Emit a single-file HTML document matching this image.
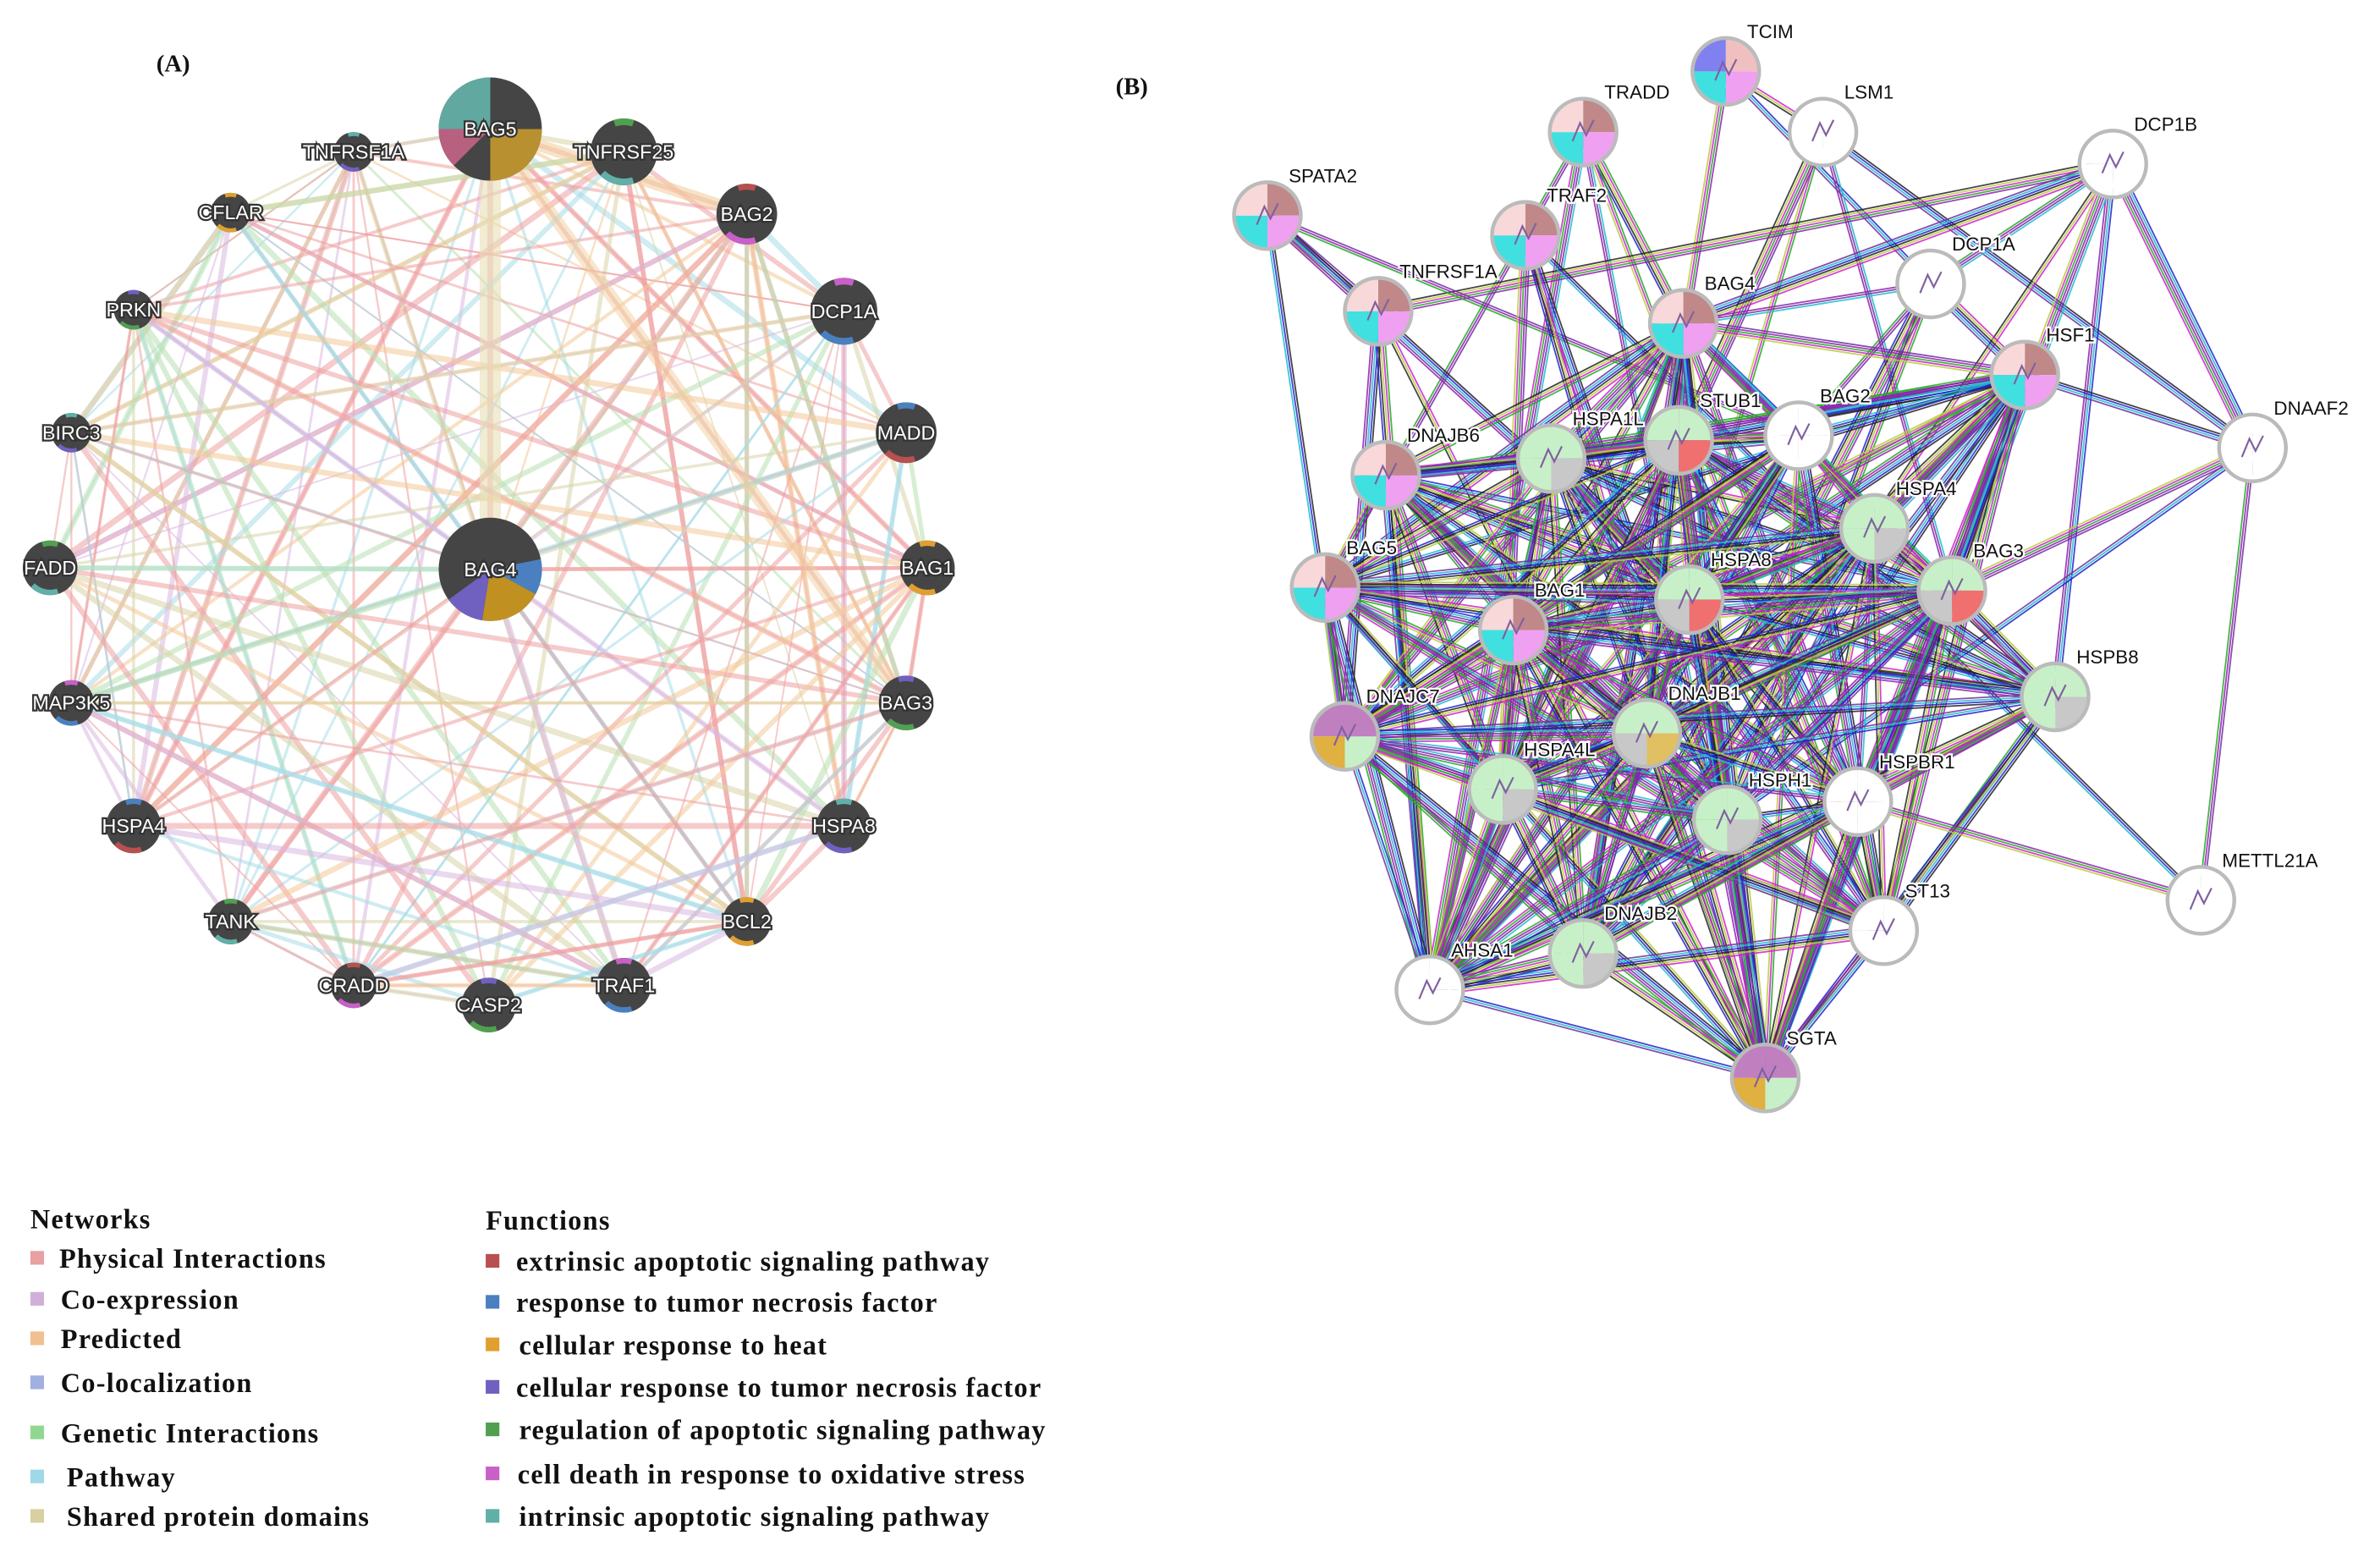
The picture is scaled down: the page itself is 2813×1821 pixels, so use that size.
<!DOCTYPE html>
<html><head><meta charset="utf-8"><style>
html,body{margin:0;padding:0;background:#fff;}
svg{display:block}
.la{font-family:"Liberation Sans",sans-serif;font-size:13px;fill:#fff;stroke:#333;stroke-width:2.5px;paint-order:stroke;text-anchor:middle;dominant-baseline:central}
.lb{font-family:"Liberation Sans",sans-serif;font-size:12.5px;fill:#111;stroke:#fff;stroke-width:2.5px;paint-order:stroke}
.lg{font-family:"Liberation Serif",serif;font-weight:bold;font-size:18px;letter-spacing:0.7px;fill:#111}
.tt{font-family:"Liberation Serif",serif;font-weight:bold;font-size:16px;fill:#111}
</style></head><body>
<svg id="s" width="2813" height="1821" viewBox="0 0 1568 1015" xmlns="http://www.w3.org/2000/svg">
<rect width="1568" height="1015" fill="#fff"/>
<g id="ea"></g><g id="na"></g>
<g id="eb"></g><g id="nb"></g>
<text class="tt" x="103" y="47">(A)</text>
<text class="tt" x="735" y="62">(B)</text>
<text class="lg" x="20" y="809">Networks</text>
<rect x="20" y="824" width="9" height="9" fill="#e8a0a0"/><text class="lg" x="39" y="835">Physical Interactions</text>
<rect x="20" y="851" width="9" height="9" fill="#d0b0d8"/><text class="lg" x="40" y="862">Co-expression</text>
<rect x="20" y="877" width="9" height="9" fill="#f0c090"/><text class="lg" x="40" y="888">Predicted</text>
<rect x="20" y="906" width="9" height="9" fill="#a0b0e0"/><text class="lg" x="40" y="917">Co-localization</text>
<rect x="20" y="939" width="9" height="9" fill="#90d890"/><text class="lg" x="40" y="950">Genetic Interactions</text>
<rect x="20" y="968" width="9" height="9" fill="#a0d8e8"/><text class="lg" x="44" y="979">Pathway</text>
<rect x="20" y="994" width="9" height="9" fill="#d8d0a0"/><text class="lg" x="44" y="1005">Shared protein domains</text>
<text class="lg" x="320" y="810">Functions</text>
<rect x="320" y="826" width="9" height="9" fill="#b85050"/><text class="lg" x="340" y="837">extrinsic apoptotic signaling pathway</text>
<rect x="320" y="853" width="9" height="9" fill="#4a80c0"/><text class="lg" x="340" y="864">response to tumor necrosis factor</text>
<rect x="320" y="881" width="9" height="9" fill="#e0a030"/><text class="lg" x="342" y="892">cellular response to heat</text>
<rect x="320" y="909" width="9" height="9" fill="#7060c0"/><text class="lg" x="340" y="920">cellular response to tumor necrosis factor</text>
<rect x="320" y="937" width="9" height="9" fill="#50a050"/><text class="lg" x="342" y="948">regulation of apoptotic signaling pathway</text>
<rect x="320" y="966" width="9" height="9" fill="#c860c8"/><text class="lg" x="341" y="977">cell death in response to oxidative stress</text>
<rect x="320" y="994" width="9" height="9" fill="#60b0a8"/><text class="lg" x="342" y="1005">intrinsic apoptotic signaling pathway</text>
<g id="la"></g><g id="lbb"></g>
</svg>
<script>
var NS="http://www.w3.org/2000/svg";
function el(t,a,p){var e=document.createElementNS(NS,t);for(var k in a)e.setAttribute(k,a[k]);p.appendChild(e);return e;}
var seed=7;function rnd(){seed=(seed*16807)%2147483647;return seed/2147483647;}
var A=[["BAG5",323,85,34],["TNFRSF1A",233,100,13],["TNFRSF25",411,100,22],["CFLAR",152,140,13],["BAG2",492,141,20],["DCP1A",556,205,22],["PRKN",88,204,13],["MADD",597,285,20],["BIRC3",47,285,13],["FADD",33,374,18],["BAG1",611,374,18],["BAG4",323,375,34],["MAP3K5",47,463,15],["BAG3",597,463,18],["HSPA4",88,544,18],["HSPA8",556,544,18],["TANK",152,607,15],["BCL2",492,607,16],["CRADD",233,649,15],["TRAF1",411,649,18],["CASP2",322,662,18]];
var ea=document.getElementById("ea"),na=document.getElementById("na");
var ac=["#eea0a0","#eea0a0","#eea0a0","#eea0a0","#a8dce8","#a8dce8","#f2c898","#d8d4a8","#b8e0b0","#d8b8e0"];
for(var i=0;i<A.length;i++)for(var j=i+1;j<A.length;j++){var n=2;for(var k=0;k<n;k++){if(rnd()<0.5){var c=ac[Math.floor(rnd()*ac.length)];el("line",{x1:A[i][1],y1:A[i][2],x2:A[j][1],y2:A[j][2],stroke:c,"stroke-width":1+rnd()*3,"stroke-opacity":0.55},ea);}}}
el("line",{x1:323,y1:85,x2:323,y2:375,stroke:"#e8e0b8","stroke-width":14,"stroke-opacity":0.6},ea);
el("line",{x1:323,y1:85,x2:492,y2:141,stroke:"#f2d0a0","stroke-width":8,"stroke-opacity":0.6},ea);
el("line",{x1:323,y1:85,x2:597,y2:463,stroke:"#f2d0a0","stroke-width":8,"stroke-opacity":0.5},ea);
var fc=["#b85050","#4a80c0","#e0a030","#7060c0","#50a050","#c860c8","#60b0a8"];
function wedge(g,x,y,r,a0,a1,c){el("path",{d:"M"+x+","+y+"L"+(x+r*Math.cos(a0))+","+(y+r*Math.sin(a0))+"A"+r+","+r+" 0 "+((a1-a0)>Math.PI?1:0)+" 1 "+(x+r*Math.cos(a1))+","+(y+r*Math.sin(a1))+"Z",fill:c},g);}
A.forEach(function(a,i){var g=na;el("circle",{cx:a[1],cy:a[2],r:a[3],fill:"#454545"},g);
 if(i==0){wedge(g,a[1],a[2],a[3],Math.PI*1.0,Math.PI*1.5,"#60a8a0");wedge(g,a[1],a[2],a[3],Math.PI*0.75,Math.PI*1.0,"#b86080");wedge(g,a[1],a[2],a[3],0,Math.PI*0.5,"#b89030");}
 else if(i==11){wedge(g,a[1],a[2],a[3],-0.2,0.5,"#4a80c0");wedge(g,a[1],a[2],a[3],Math.PI*0.55,Math.PI*0.8,"#7060c0");wedge(g,a[1],a[2],a[3],0.5,Math.PI*0.55,"#c09020");}
 else{var c=fc[(i*3)%7];wedge(g,a[1],a[2],a[3],Math.PI*0.4,Math.PI*0.75,c);wedge(g,a[1],a[2],a[3],Math.PI*1.4,Math.PI*1.6,fc[(i*5+1)%7]);el("circle",{cx:a[1],cy:a[2],r:a[3]*0.8,fill:"#454545"},g);}
 var t=el("text",{x:a[1],y:a[2],"class":"la"},document.getElementById("la"));t.textContent=a[0];});
var B=[["TCIM",1137,47,"w"],["TRADD",1043,87,"p"],["LSM1",1201,87,"n"],["DCP1B",1392,108,"n"],["SPATA2",835,142,"p"],["TRAF2",1005,155,"p"],["DCP1A",1272,187,"n"],["TNFRSF1A",908,205,"p"],["BAG4",1109,213,"p"],["HSF1",1334,247,"p"],["DNAAF2",1484,295,"n"],["DNAJB6",913,313,"p"],["HSPA1L",1022,302,"g"],["STUB1",1106,290,"r"],["BAG2",1185,287,"n"],["HSPA4",1235,348,"g"],["BAG5",873,387,"p"],["HSPA8",1113,395,"r"],["BAG1",997,415,"p"],["BAG3",1286,389,"r"],["HSPB8",1354,459,"g"],["DNAJC7",886,485,"m"],["DNAJB1",1085,483,"y"],["HSPA4L",990,520,"g"],["HSPH1",1138,540,"g"],["HSPBR1",1224,528,"n"],["METTL21A",1450,593,"n"],["ST13",1241,613,"n"],["AHSA1",942,652,"n"],["DNAJB2",1043,628,"g"],["SGTA",1163,710,"m"]];
var eb=document.getElementById("eb"),nb=document.getElementById("nb");
var bc=["#22aa22","#cc22cc","#b8cc40","#222222","#2222cc","#22bbcc","#7030a0","#9020b0"];
var core=[11,12,13,14,15,16,17,18,19,20,21,22,23,24,25,27,28,29,30,9,8];
for(var i=0;i<B.length;i++)for(var j=i+1;j<B.length;j++){var ci=core.indexOf(i)>=0,cj=core.indexOf(j)>=0;var d=Math.hypot(B[i][1]-B[j][1],B[i][2]-B[j][2]);var p=(ci&&cj)?0.85:0.12;if(d<160)p+=0.3;if(rnd()<p){var dx=B[j][1]-B[i][1],dy=B[j][2]-B[i][2];var nx=-dy/d,ny=dx/d;var m=3+Math.floor(rnd()*4);var off=Math.floor(rnd()*8);for(var k=0;k<m;k++){var o=(k-(m-1)/2)*1.5;el("line",{x1:B[i][1]+nx*o,y1:B[i][2]+ny*o,x2:B[j][1]+nx*o,y2:B[j][2]+ny*o,stroke:bc[(k+off)%8],"stroke-width":1,"stroke-opacity":0.85},eb);}}}
var pal={p:["#c08888","#f0a0f0","#40e0e0","#f8d8d8"],g:["#c8f0c8","#c8c8c8","#c8f0c8","#c8f0c8"],r:["#c8f0c8","#f07070","#c8c8c8","#c8f0c8"],m:["#c080c0","#c8f0c8","#e0b040","#c080c0"],y:["#c8f0c8","#e0c060","#c8c8c8","#c8f0c8"],w:["#f0c0c0","#f0a0f0","#40e0e0","#8080f0"],n:["#fff","#fff","#fff","#fff"]};
B.forEach(function(b){var r=22;var c=pal[b[3]];
 for(var q=0;q<4;q++){var a0=-Math.PI/2+q*Math.PI/2,a1=a0+Math.PI/2;el("path",{d:"M"+b[1]+","+b[2]+"L"+(b[1]+r*Math.cos(a0))+","+(b[2]+r*Math.sin(a0))+"A"+r+","+r+" 0 0 1 "+(b[1]+r*Math.cos(a1))+","+(b[2]+r*Math.sin(a1))+"Z",fill:c[q]},nb);}
 el("circle",{cx:b[1],cy:b[2],r:r,fill:"none",stroke:"#bbb","stroke-width":2.5},nb);
 el("path",{d:"M"+(b[1]-7)+","+(b[2]+6)+"l5,-12l4,8l5,-10",fill:"none",stroke:"#8060a0","stroke-width":1.2},nb);
 var t=el("text",{x:b[1]+14,y:b[2]-22,"class":"lb"},document.getElementById("lbb"));t.textContent=b[0];});
</script>
</body></html>
